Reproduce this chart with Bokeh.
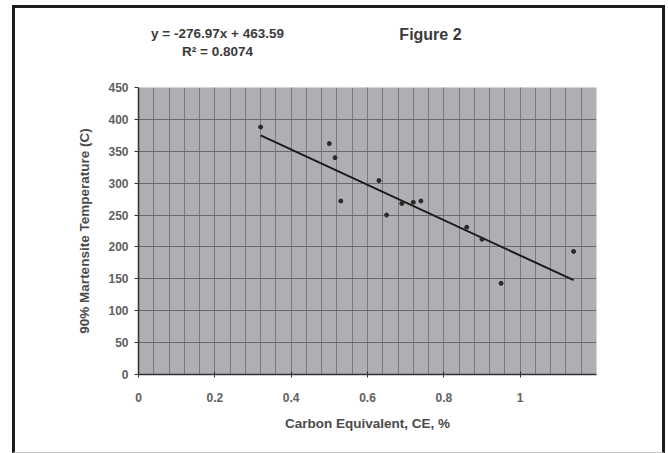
from bokeh.plotting import figure
from bokeh.layouts import column
from bokeh.models import Range1d, SingleIntervalTicker, ColumnDataSource
from bokeh.core.properties import value
from bokeh.embed import file_html
from bokeh.resources import INLINE

# ---- data ----
ce = [0.32, 0.50, 0.515, 0.53, 0.63, 0.65, 0.69, 0.72, 0.74, 0.86, 0.90, 0.95, 1.14]
ms90 = [388, 362, 340, 272, 304, 250, 268, 270, 272, 231, 212, 143, 193]
slope = -276.97
intercept = 463.59
r2 = 0.8074
chart_title = "Figure 2"
x_title = "Carbon Equivalent, CE, %"
y_title = "90% Martensite Temperature (C)"

FONT = "Liberation Sans"
FRAME = "3px solid #1c1c1c"

W = 653                    # outer width (border-box, 3px side borders)
CW = W - 6
ML, MR = 123, CW - 123 - 452

# ---------- top strip holding the regression equation and the title ----------
TOP_H = 55                 # includes 3px top border -> 52px canvas
top = figure(width=W, height=TOP_H, x_range=Range1d(0, 1.2),
             y_range=Range1d(492.5, 574.3),
             output_backend="svg", toolbar_location=None,
             x_axis_location=None, y_axis_location=None,
             min_border_left=ML, min_border_right=MR,
             min_border_top=0, min_border_bottom=0)
top.styles = {"border-top": FRAME, "border-left": FRAME, "border-right": FRAME}
top.xgrid.visible = False
top.ygrid.visible = False
top.outline_line_color = None
top.background_fill_color = "white"
top.border_fill_color = "white"

txt = dict(text_align="center", text_baseline="middle", text_font=value(FONT),
           text_font_style="bold", text_color="#3a3a3a")
eq_src = ColumnDataSource(dict(x=[0.207, 0.207], y=[537, 510],
                               t=["y = %.2fx + %.2f" % (slope, intercept),
                                  "R² = %.4f" % r2]))
top.text("x", "y", text="t", source=eq_src, text_font_size="13.5px", **txt)
ttl_src = ColumnDataSource(dict(x=[0.765], y=[536], t=[chart_title]))
top.text("x", "y", text="t", source=ttl_src, text_font_size="16px", **txt)

# ---------- main chart ----------
H = 453 - 5 - TOP_H        # includes 1px bottom border
CH = H - 1
p = figure(width=W, height=H, x_range=Range1d(0, 1.2), y_range=Range1d(0, 450),
           output_backend="svg", toolbar_location=None,
           min_border_left=ML, min_border_right=MR,
           min_border_top=27, min_border_bottom=CH - 27 - 286)
p.styles = {"border-left": FRAME, "border-right": FRAME,
            "border-bottom": "1px solid #c4c4c4"}

p.background_fill_color = "#aeaeb3"
p.border_fill_color = "white"
p.outline_line_color = None

p.xaxis.ticker = SingleIntervalTicker(interval=0.2, num_minor_ticks=5)
p.yaxis.ticker = SingleIntervalTicker(interval=50, num_minor_ticks=0)
p.xaxis.major_label_overrides = {0: "0", 1: "1"}
for ax in (p.xaxis[0], p.yaxis[0]):
    ax.axis_line_color = "#333333"
    ax.axis_line_width = 1.5
    ax.major_tick_line_color = "#333333"
    ax.minor_tick_line_color = None
    ax.major_label_text_font = FONT
    ax.major_label_text_font_size = "12px"
    ax.major_label_text_color = "#606060"
    ax.major_label_text_font_style = "bold"
    ax.axis_label_text_font = FONT
    ax.axis_label_text_font_size = "13.5px"
    ax.axis_label_text_font_style = "bold"
    ax.axis_label_text_color = "#4a4a4a"

p.xaxis.major_tick_out = 3
p.xaxis.major_tick_in = 3
p.xaxis.major_label_standoff = 14
p.xaxis.axis_label = x_title
p.xaxis.axis_label_standoff = 11

p.yaxis.major_tick_out = 4
p.yaxis.major_tick_in = 0
p.yaxis.major_label_standoff = 6
p.yaxis.axis_label = y_title
p.yaxis.axis_label_standoff = 13

p.xgrid.grid_line_color = "#7a7a7f"
p.xgrid.minor_grid_line_color = "#7a7a7f"
p.ygrid.grid_line_color = "#69696e"
p.ygrid.grid_line_width = 1.2

# linear trend line from the fitted equation
x_fit = [min(ce), max(ce)]
y_fit = [slope * v + intercept for v in x_fit]
p.line(x_fit, y_fit, line_color="#1a1a1a", line_width=2)

src = ColumnDataSource(dict(x=ce, y=ms90))
p.scatter("x", "y", source=src, size=4, marker="circle",
          fill_color="#2a2a2a", line_color="#2a2a2a")

layout = column(top, p, spacing=0)
layout.styles = {"margin-left": "12px", "margin-top": "5px"}

open("out.html", "w").write(file_html(layout, INLINE))
